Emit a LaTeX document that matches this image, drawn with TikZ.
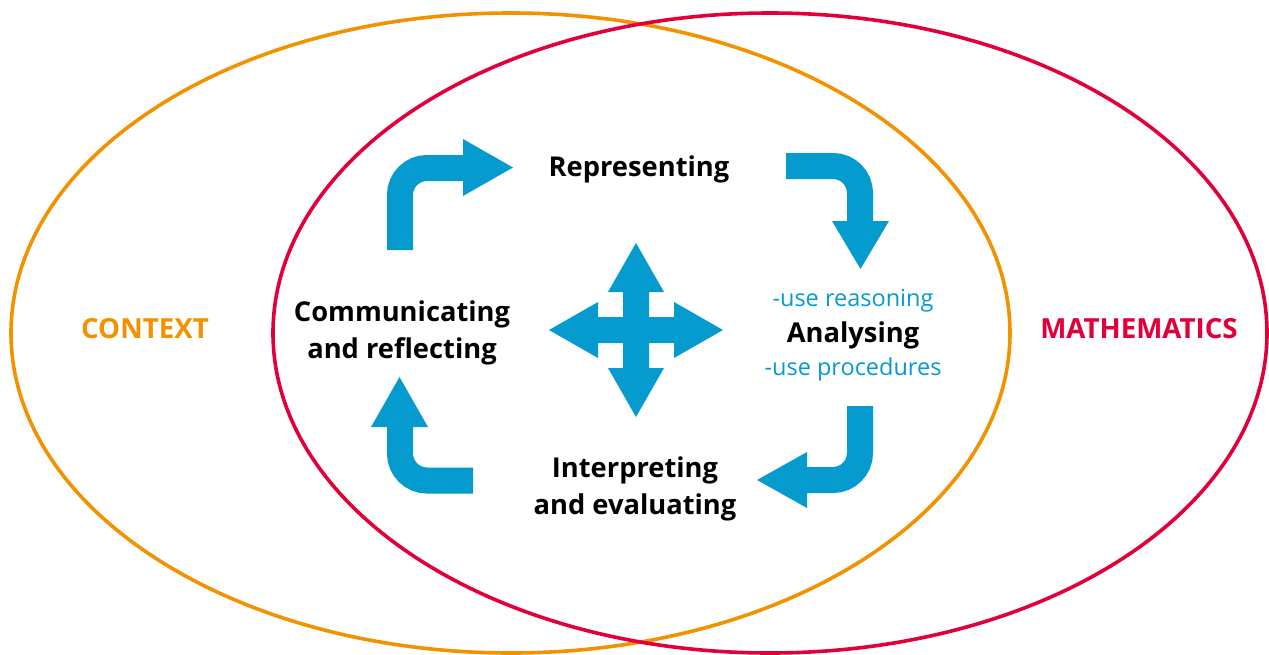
\documentclass[tikz,border=0pt]{standalone}
\usepackage{fontspec}
\setmainfont{Open Sans}
\definecolor{ctxorange}{HTML}{F39200}
\definecolor{mathred}{HTML}{E2003A}
\definecolor{cycblue}{HTML}{059BCE}
\tikzset{
  ring/.style={line width=3.6pt},
  shaft/.style={draw=cycblue, line width=26pt, rounded corners=27pt},
  head/.style={fill=cycblue},
  label/.style={font=\bfseries\fontsize{27.3}{36.5}\selectfont, align=center, text=black, inner sep=0pt},
  sublabel/.style={font=\fontsize{23.5}{26}\selectfont, text=cycblue, inner sep=0pt},
  biglabel/.style={font=\bfseries\fontsize{27.7}{30}\selectfont, inner sep=0pt}
}
\begin{document}
\begin{tikzpicture}[x=1pt,y=-1pt]
\useasboundingbox (0,0) rectangle (1269,654);
% ellipses
\draw[ring, ctxorange] (510.5,333) ellipse [x radius=499.5, y radius=320];
\draw[ring, mathred] (770,333) ellipse [x radius=497, y radius=320];
% outer labels
\node[biglabel, text=ctxorange] (context) at (145,329) {CONTEXT};
\node[biglabel, text=mathred] (maths) at (1139,329) {MATHEMATICS};
% stage labels
\node[label] (rep) at (639,169) {Representing};
\node[label] (com) at (402,333) {Communicating\\and reflecting};
\node[label] (ana) at (853,335) {Analysing};
\node[sublabel] (reas) at (853,301) {-use reasoning};
\node[sublabel] (proc) at (853,369) {-use procedures};
\node[label] (int) at (635,489) {Interpreting\\and evaluating};
% arrow coordinates
\coordinate (a1s) at (400,250); \coordinate (a1e) at (463,168);
\coordinate (a2s) at (786,166); \coordinate (a2e) at (860,221);
\coordinate (a3s) at (860,406); \coordinate (a3e) at (807,480);
\coordinate (a4s) at (473,480.5); \coordinate (a4e) at (400,427);
% arrow 1: up then right (to Representing)
\draw[shaft] (a1s) |- (a1e);
\fill[head] (463,139) -- (513,167.5) -- (463,196) -- cycle;
% arrow 2: right then down (to Analysing)
\draw[shaft] (a2s) -| (a2e);
\fill[head] (832,221) -- (889,221) -- (860.5,269) -- cycle;
% arrow 3: down then left (to Interpreting)
\draw[shaft] (a3s) |- (a3e);
\fill[head] (807,452) -- (807,508) -- (757,480) -- cycle;
% arrow 4: left then up (to Communicating)
\draw[shaft] (a4s) -| (a4e);
\fill[head] (371,427) -- (428,427) -- (399.5,377) -- cycle;
% four-way arrow
\coordinate (cross) at (636,330);
\fill[head, shift={(cross)}]
  (0,-87) -- (28,-38) -- (13,-38) -- (13,-13) -- (38,-13) -- (38,-28) --
  (87,0) -- (38,28) -- (38,13) -- (13,13) -- (13,38) -- (28,38) --
  (0,87) -- (-28,38) -- (-13,38) -- (-13,13) -- (-38,13) -- (-38,28) --
  (-87,0) -- (-38,-28) -- (-38,-13) -- (-13,-13) -- (-13,-38) -- (-28,-38) -- cycle;
\end{tikzpicture}
\end{document}
